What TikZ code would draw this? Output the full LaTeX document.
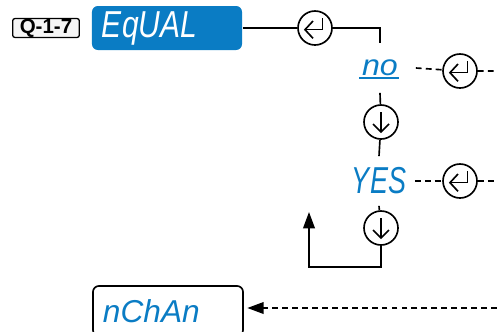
\documentclass[tikz,border=0pt]{standalone}
\usepackage{fontspec}
\setmainfont{Liberation Sans}
\usepackage{graphicx}
\usetikzlibrary{arrows.meta}
\definecolor{dispblue}{HTML}{0A7CC4}
\newcommand{\seg}[3][0.8]{{\fontsize{#2}{#2}\selectfont\scalebox{#1}[1]{\itshape #3}}}

\begin{document}
\begin{tikzpicture}[x=0.03cm,y=-0.03cm,
    line width=1.4pt,
    keybtn/.style={circle,draw,minimum size=1.02cm,inner sep=0pt},
    enterbtn/.style={keybtn,path picture={
      \begin{scope}[shift={(path picture bounding box.center)}]
        \draw (0.22cm,0.3cm) |- (-0.3cm,-0.05cm);
        \draw (-0.06cm,0.21cm) -- (-0.3cm,-0.05cm) -- (-0.06cm,-0.31cm);
      \end{scope}}},
    downbtn/.style={keybtn,path picture={
      \begin{scope}[shift={(path picture bounding box.center)}]
        \draw (0,0.3cm) -- (0,-0.3cm);
        \draw (-0.24cm,-0.06cm) -- (0,-0.3cm) -- (0.24cm,-0.06cm);
      \end{scope}}},
    choice/.style={text=dispblue,minimum width=2.1cm,minimum height=1.44cm,inner sep=0pt},
    display/.style={rounded corners=5pt,minimum height=1.32cm,inner xsep=0.3cm,
      text width=3.9cm,align=left},
    dashline/.style={dash pattern=on 5pt off 3.5pt},
    tip/.style={-{Triangle[length=14pt,width=10pt]}}]
  \clip (0,0) rectangle (497,331);
  \useasboundingbox (0,0) rectangle (497,331);

  % header
  \node[draw,fill=black!4,rounded corners=2pt,line width=1.1pt,minimum width=2cm,
    minimum height=0.57cm,inner sep=0pt,font=\bfseries\fontsize{17.5}{17.5}\selectfont] (q17) at (46,28) {Q-1-7};
  \node[display,fill=dispblue,text=white] (equal) at (167,28) {\seg[0.8]{32}{EqUAL}};

  % keys and choices
  \node[enterbtn] (e1) at (315,28) {};
  \node[choice] (no) at (380,68) {\seg[1.1]{25}{no}};
  \node[enterbtn] (e2) at (460,71) {};
  \node[downbtn] (d1) at (381,122) {};
  \node[choice] (yes) at (379,181) {\seg[0.72]{32}{YES}};
  \node[enterbtn] (e3) at (460,181) {};
  \node[downbtn] (d2) at (381,228) {};
  \node[display,draw,text=dispblue,minimum height=1.5cm] (nchan) at (168,311) {\seg[1.0]{27}{nChAn}};

  \coordinate (out1) at (497,71);
  \coordinate (out2) at (497,181);
  \coordinate (in3) at (497,308);
  \coordinate (corner) at (309,267);
  \coordinate (back) at (309,212);

  % connectors
  \draw (equal) -- (e1);
  \draw (e1.east) -| (no.north);
  \draw[dispblue,line width=1.5pt] ([xshift=-0.63cm,yshift=-0.3cm]no.center) -- ([xshift=0.57cm,yshift=-0.3cm]no.center);
  \draw[dashline] (no.east) -- (e2) -- (out1);
  \draw (no.south) -- (d1) -- (yes.north);
  \draw[dashline] (yes.east) -- (e3) -- (out2);
  \draw (yes.south) -- (d2);
  \draw[tip] (d2.south) |- (corner) -- (back);
  \draw[dashline,tip] (in3) -- ([xshift=3pt]nchan.east |- in3);
\end{tikzpicture}
\end{document}
